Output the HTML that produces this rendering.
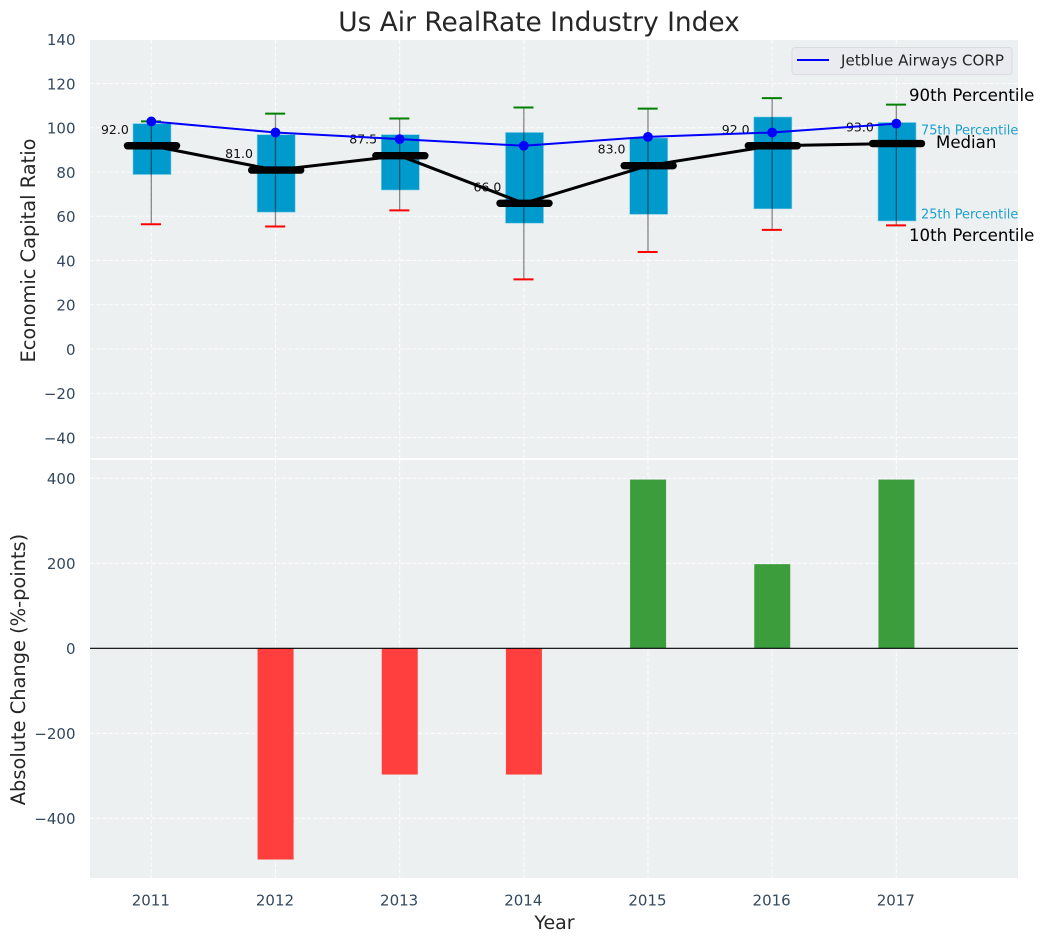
<!DOCTYPE html>
<html lang="en">
<head>
<meta charset="utf-8">
<title>Us Air RealRate Industry Index</title>
<style>
html,body{margin:0;padding:0;background:#fff;}
svg{display:block;font-family:"DejaVu Sans","Liberation Sans",sans-serif;}
</style>
</head>
<body>
<svg id="chart" xmlns="http://www.w3.org/2000/svg" width="1044" height="942" viewBox="0 0 1044 942">
  <text x="539" y="31" font-size="26.4" text-anchor="middle" fill="#262626">Us Air RealRate Industry Index</text>
  <rect x="90" y="40" width="928" height="418" fill="#ecf0f1"/>
  <rect x="90" y="460" width="928" height="418" fill="#ecf0f1"/>
  <g id="grid"></g>
  <g id="labels"></g>
  <g id="marks"></g>
  <g id="axes"></g>
  <text transform="translate(35,250.5) rotate(-90)" font-size="19.4" text-anchor="middle" fill="#262626">Economic Capital Ratio</text>
  <text transform="translate(25,669.5) rotate(-90)" font-size="19.4" text-anchor="middle" fill="#262626">Absolute Change (%-points)</text>
  <text x="554.5" y="929" font-size="19" text-anchor="middle" fill="#262626">Year</text>
  <g>
    <rect x="792" y="47.5" width="220" height="27" rx="3" fill="#e9ebf0" stroke="#d9dbdf" stroke-width="1"/>
    <line x1="797" y1="60" x2="829" y2="60" stroke="#0000ff" stroke-width="2"/>
    <text x="841" y="65.5" font-size="15.1" fill="#262626">Jetblue Airways CORP</text>
  </g>
</svg>
<script>
const years = [2011, 2012, 2013, 2014, 2015, 2016, 2017];
const p90 = [103, 106.5, 104.3, 109.3, 108.8, 113.5, 110.6];
const q3 = [102, 97, 97, 98, 95.5, 105, 102.5];
const medians = [92, 81, 87.5, 66, 83, 92, 93];
const q1 = [79, 62, 72, 57, 61, 63.5, 58];
const p10 = [56.5, 55.5, 62.8, 31.6, 44, 54, 56];
const company = [103, 98, 95, 92, 96, 98, 102];
const changes = [0, -497, -297, -297, 397, 198, 397];
const topTicks = [140, 120, 100, 80, 60, 40, 20, 0, -20, -40];
const bottomTicks = [400, 200, 0, -200, -400];

const NS = 'http://www.w3.org/2000/svg';
const xAxis = v => 151.3 + 124.17 * (v - 2011);
const yTop = v => 349.3 - 2.2125 * v;
const yBottom = v => 648.3 - 0.425 * v;
const fmt = v => String(v).replace('-', '\u2212');

function mk(tag, parent, props, txt) {
  const el = document.createElementNS(NS, tag);
  for (const k in props) el.setAttribute(k, props[k]);
  if (txt !== undefined) el.textContent = txt;
  document.getElementById(parent).appendChild(el);
  return el;
}
const gridStyle = {stroke: '#ffffff', 'stroke-width': 1.1, 'stroke-dasharray': '4 2.2', opacity: 0.85};
const tickColor = '#34495e';

topTicks.forEach(t => {
  const g = mk('line', 'grid', {x1: 90, x2: 1018, y1: yTop(t) - 0.3, y2: yTop(t) - 0.3, ...gridStyle});
  
  
  const l = mk('text', 'axes', {x: 75.5, y: yTop(t) + 5.5, 'font-size': 15, 'text-anchor': 'end', fill: tickColor}, fmt(t));
  
  
});
bottomTicks.forEach(t => {
  const g = mk('line', 'grid', {x1: 90, x2: 1018, y1: yBottom(t), y2: yBottom(t), ...gridStyle});
  
  
  const l = mk('text', 'axes', {x: 75.5, y: yBottom(t) + 5.5, 'font-size': 15, 'text-anchor': 'end', fill: tickColor}, fmt(t));
  
  
});
years.forEach(y => {
  const a = mk('line', 'grid', {x1: xAxis(y), x2: xAxis(y), y1: 40, y2: 458, ...gridStyle});
  
  
  const b = mk('line', 'grid', {x1: xAxis(y), x2: xAxis(y), y1: 460, y2: 878, ...gridStyle});
  
  
  const l = mk('text', 'axes', {x: xAxis(y) - 0.5, y: 905.5, 'font-size': 15, 'text-anchor': 'middle', fill: tickColor}, y);
  
  
});

years.forEach((y, i) => {
  const l = mk('text', 'labels', {x: xAxis(y) - 22.5, y: yTop(medians[i]) - 12, 'font-size': 12.5, 'text-anchor': 'end', fill: '#111'}, medians[i].toFixed(1));
  
  
});

years.forEach((y, i) => {
  const cx = xAxis(y) + 0.7;
  const box = mk('rect', 'marks', {x: cx - 19, y: yTop(q3[i]), width: 38, height: yTop(q1[i]) - yTop(q3[i]), fill: '#009acd', stroke: '#7fcce6', 'stroke-width': 0.6});
  
  
});
const medLine = mk('polyline', 'marks', {points: years.map((y, i) => xAxis(y) + ',' + yTop(medians[i])).join(' '), fill: 'none', stroke: '#000', 'stroke-width': 3});


years.forEach((y, i) => {
  const cx = xAxis(y);
  const m = mk('line', 'marks', {x1: cx - 23.8, x2: cx + 25.2, y1: yTop(medians[i]), y2: yTop(medians[i]), stroke: '#000', 'stroke-width': 7.4, 'stroke-linecap': 'round'});
  
  
  const w = mk('line', 'marks', {x1: cx, x2: cx, y1: yTop(p90[i]), y2: yTop(p10[i]), stroke: '#000', 'stroke-opacity': 0.45, 'stroke-width': 1.3});
  
  
  const c1 = mk('line', 'marks', {x1: cx - 10.3, x2: cx + 9.7, y1: yTop(p90[i]), y2: yTop(p90[i]), stroke: '#008000', 'stroke-width': 2});
  
  
  const c2 = mk('line', 'marks', {x1: cx - 10.3, x2: cx + 9.7, y1: yTop(p10[i]), y2: yTop(p10[i]), stroke: '#ff0000', 'stroke-width': 2});
  
  
});
const compLine = mk('polyline', 'marks', {points: years.map((y, i) => xAxis(y) + ',' + yTop(company[i])).join(' '), fill: 'none', stroke: '#0000ff', 'stroke-width': 2});


years.forEach((y, i) => {
  const d = mk('circle', 'marks', {cx: xAxis(y), cy: yTop(company[i]), r: 4.9, fill: '#0000ff'});
  
  
});

years.forEach((y, i) => {
  if (changes[i] === 0) return;
  const top = Math.min(yBottom(0), yBottom(changes[i]));
  const h = Math.abs(yBottom(changes[i]) - yBottom(0));
  const b = mk('rect', 'marks', {x: xAxis(y) - 17.9, y: top, width: 36, height: h, fill: changes[i] > 0 ? '#3c9d3c' : '#ff3e3e'});
  
  
});
const zero = mk('line', 'marks', {x1: 90, x2: 1018, y1: yBottom(0), y2: yBottom(0), stroke: '#000', 'stroke-width': 1.2});



const last = years.length - 1;
const a90 = mk('text', 'marks', {x: 909, y: yTop(p90[last]) - 3.5, 'font-size': 16.6, fill: '#000'}, '90th Percentile');


const a75 = mk('text', 'marks', {x: 921, y: yTop(q3[last]) + 12, 'font-size': 12.9, fill: '#1e9fd0'}, '75th Percentile');


const aMed = mk('text', 'marks', {x: 936, y: yTop(medians[last]) + 4.5, 'font-size': 16.6, fill: '#000'}, 'Median');


const a25 = mk('text', 'marks', {x: 921, y: yTop(q1[last]) - 2.5, 'font-size': 12.9, fill: '#1e9fd0'}, '25th Percentile');


const a10 = mk('text', 'marks', {x: 909, y: yTop(p10[last]) + 15.5, 'font-size': 16.6, fill: '#000'}, '10th Percentile');


</script>
</body>
</html>
